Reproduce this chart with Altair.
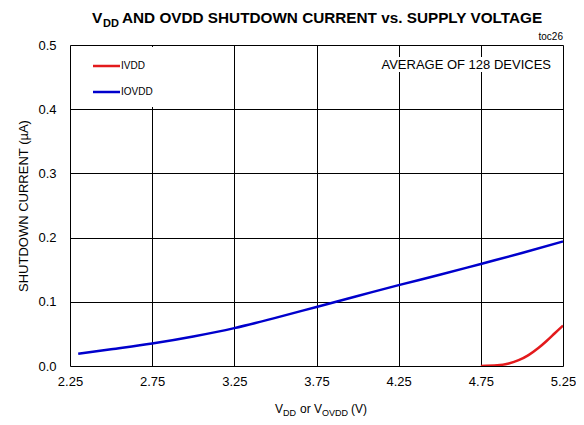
import altair as alt
import pandas as pd

# ---- data ----
iovdd_v = [2.3, 2.5, 2.75, 3.0, 3.25, 3.5, 3.75, 4.0, 4.25, 4.5, 4.75, 5.0, 5.25]
iovdd_i = [0.019, 0.026, 0.035, 0.046, 0.059, 0.075, 0.092, 0.109, 0.126, 0.142, 0.159, 0.176, 0.194]
ivdd_v = [4.75, 4.85, 4.92, 4.98, 5.04, 5.1, 5.15, 5.2, 5.25]
ivdd_i = [0.0, 0.001, 0.004, 0.009, 0.017, 0.028, 0.039, 0.051, 0.063]
x_ticks = [2.25, 2.75, 3.25, 3.75, 4.25, 4.75, 5.25]
y_ticks = [0.0, 0.1, 0.2, 0.3, 0.4, 0.5]
series_names = ["IVDD", "IOVDD"]
series_colors = ["#e31a1c", "#0000cc"]

FONT = "Liberation Sans"

df = pd.concat([
    pd.DataFrame({"v": ivdd_v, "i": ivdd_i, "s": "IVDD"}),
    pd.DataFrame({"v": iovdd_v, "i": iovdd_i, "s": "IOVDD"}),
])

W, H = 493, 321

xs = alt.Scale(domain=[2.25, 5.25], nice=False, zero=False)
ys = alt.Scale(domain=[0, 0.5], nice=False)

base = alt.Chart(df)

lines = base.mark_line(strokeWidth=2.5, interpolate="monotone", clip=True).encode(
    x=alt.X("v:Q", scale=xs,
            axis=alt.Axis(values=x_ticks, format=".2f", grid=True, gridColor="black",
                          gridWidth=1, gridOpacity=1, domain=False, ticks=False,
                          labelPadding=9, labelFontSize=13, labelFont=FONT,
                          labelColor="black", title=None, labelFlush=False)),
    y=alt.Y("i:Q", scale=ys,
            axis=alt.Axis(values=y_ticks, format=".1f", grid=True, gridColor="black",
                          gridWidth=1, gridOpacity=1, domain=False, ticks=False,
                          labelPadding=14, labelFontSize=13, labelFont=FONT,
                          labelColor="black", title=None)),
    color=alt.Color("s:N", scale=alt.Scale(domain=series_names, range=series_colors), legend=None),
    detail="s:N",
)

one = pd.DataFrame({"k": [0]})
X0, Y0 = 70, 45


def txt(t, x, y, size, align="left", weight="normal", baseline="alphabetic", angle=0):
    kw = dict(text=t, fontSize=size, font=FONT, align=align, fontWeight=weight,
              baseline=baseline, color="black")
    if angle:
        kw["angle"] = angle
    return alt.Chart(one).mark_text(**kw).encode(x=alt.value(x - X0), y=alt.value(y - Y0))


def box(x1, y1, x2, y2):
    return alt.Chart(one).mark_rect(color="white").encode(
        x=alt.value(x1 - X0), x2=alt.value(x2 - X0), y=alt.value(y1 - Y0), y2=alt.value(y2 - Y0))


def seg(x1, x2, y, color):
    return alt.Chart(one).mark_rule(color=color, strokeWidth=2.5).encode(
        x=alt.value(x1 - X0), x2=alt.value(x2 - X0), y=alt.value(y - Y0))


layers = [
    lines,
    box(72, 47, 234, 107),
    box(372, 57, 556, 72),
    seg(93, 120, 66, series_colors[0]),
    seg(93, 120, 92, series_colors[1]),
    txt("IVDD", 121, 66, 10, baseline="middle"),
    txt("IOVDD", 121, 92, 10, baseline="middle"),
    txt("AVERAGE OF 128 DEVICES", 551, 65, 13, align="right", baseline="middle"),
    txt("toc26", 563, 37, 10, align="right", baseline="middle"),
    # title
    txt("V", 92, 23, 15.5, weight="bold"),
    txt("DD", 103, 27, 11, weight="bold"),
    txt("AND OVDD SHUTDOWN CURRENT vs. SUPPLY VOLTAGE", 122, 23, 15.3, weight="bold"),
    # x axis title
    txt("V", 275, 413, 12),
    txt("DD", 283, 416, 9),
    txt("or V", 300, 413, 12),
    txt("OVDD", 322, 416, 9),
    txt("(V)", 351, 413, 12),
    # y axis title
    txt("SHUTDOWN CURRENT (µA)", 24, 206, 13, align="center", baseline="middle", angle=270),
]

chart = alt.layer(*layers).properties(
    width=W, height=H,
    autosize=alt.AutoSizeParams(type="none"),
    padding={"left": X0 - 8, "top": Y0 - 8, "right": 584 - 16 - (X0 - 8) - W,
             "bottom": 425 - 16 - (Y0 - 8) - H},
).configure_view(stroke="black", strokeWidth=2.5).configure(background="white")

chart.save("out.html", embed_options={"renderer": "svg", "actions": False})
